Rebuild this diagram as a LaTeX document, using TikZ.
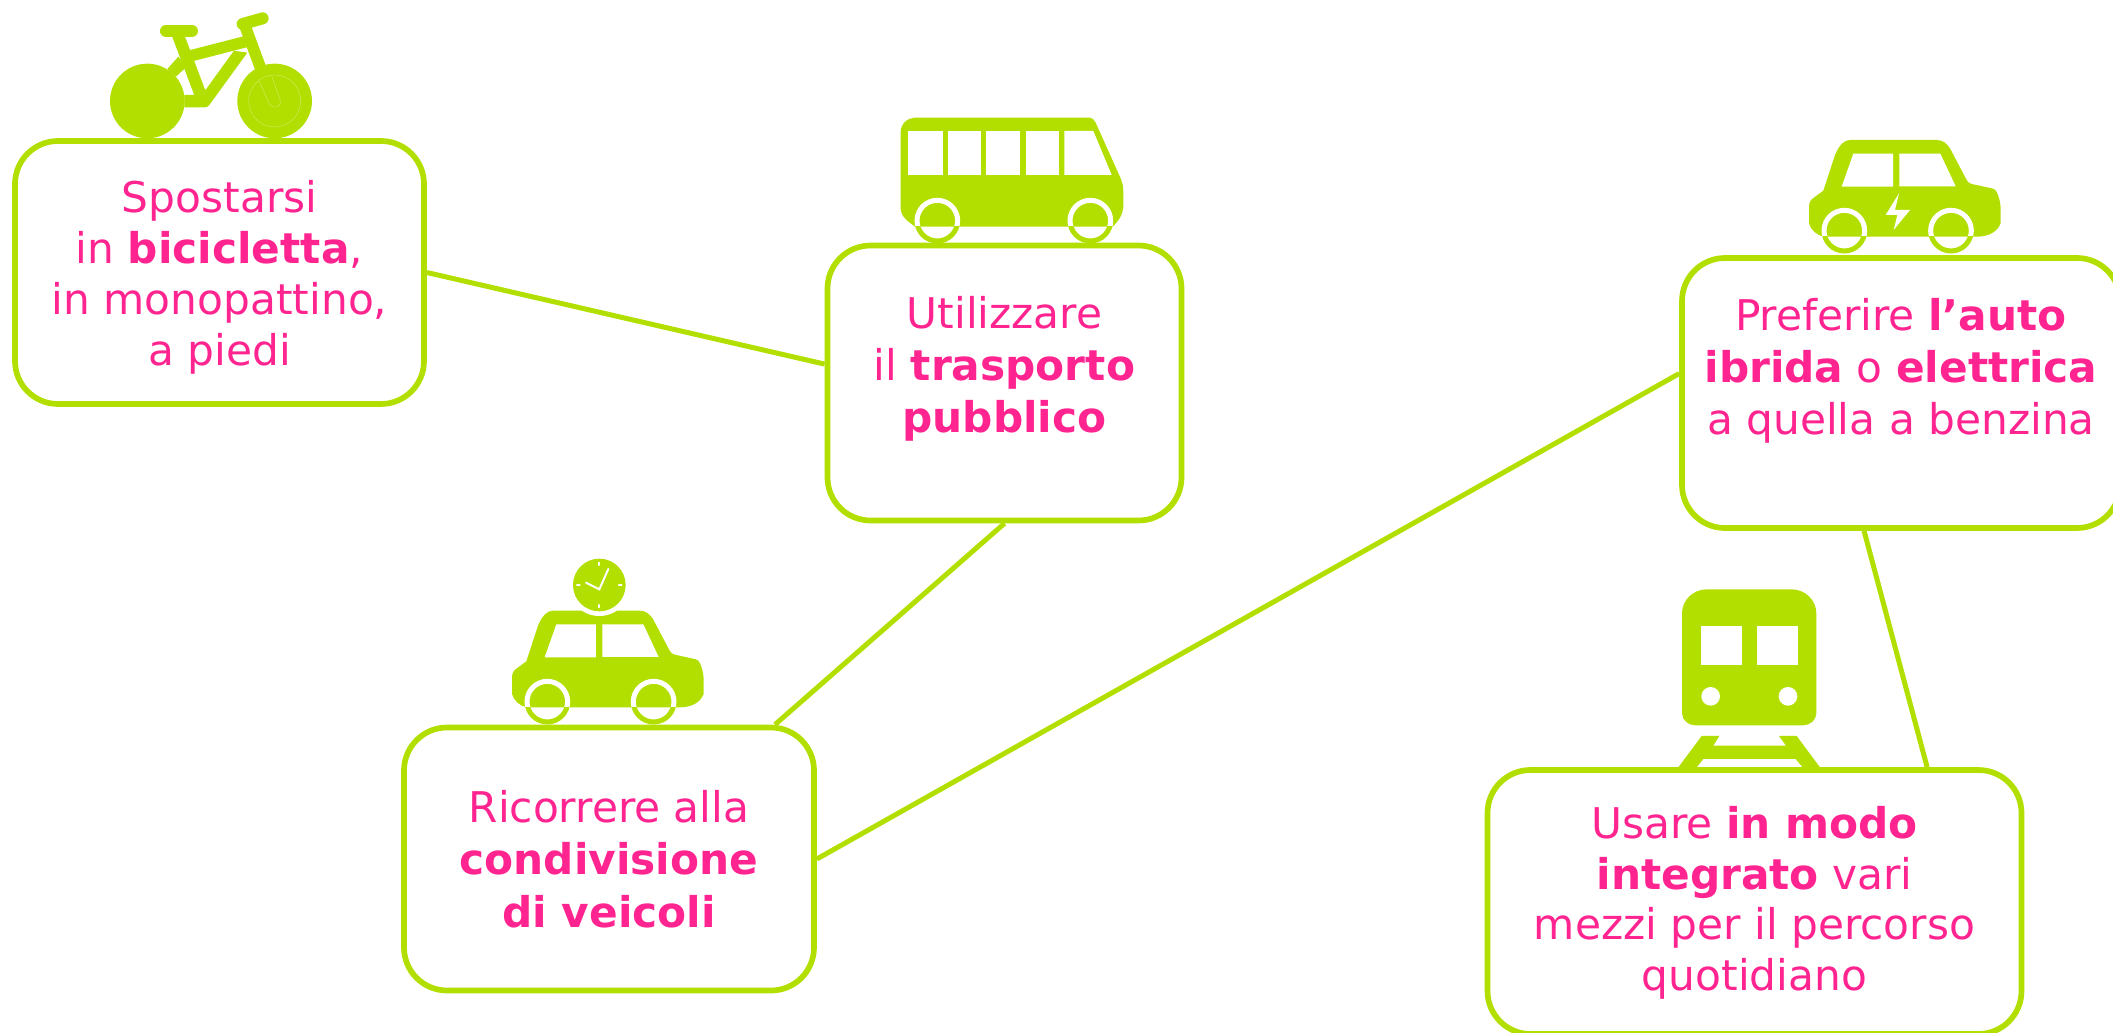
\documentclass[tikz,border=0pt]{standalone}
\usepackage{fontspec}
\setmainfont{DejaVu Sans}
\definecolor{lime}{HTML}{B2DF00}
\definecolor{fucsia}{HTML}{FF2490}

\newcommand{\wheelring}[3]{
    \begin{scope}
        \clip (#1-90,#2-90) rectangle (#1+90,#3);
        \draw[white, line width=5pt] (#1,#2) circle (61);
    \end{scope}
    \begin{scope}
        \clip (#1-90,#3) rectangle (#1+90,#2+90);
        \draw[lime, line width=5pt] (#1,#2) circle (61);
    \end{scope}
}
\newcommand{\carbody}{
    \fill[lime] (100,212) -- (135,105) .. controls (148,75) and (162,60) .. (180,60)
        -- (440,60) .. controls (458,60) and (470,70) .. (480,85) -- (530,180)
        .. controls (534,187) and (538,190) .. (545,192) -- (605,205)
        .. controls (615,208) and (620,212) .. (622,220) .. controls (630,240) and (632,255) .. (632,270)
        -- (632,310) .. controls (620,340) and (590,350) .. (560,350) -- (100,350)
        .. controls (80,345) and (62,330) .. (57,310) -- (57,265)
        .. controls (57,250) and (60,242) .. (65,238) -- cycle;
    \fill[white] (190,101) -- (309,101) -- (309,200) -- (155,200) -- cycle;
    \fill[white] (328,101) -- (451,101) -- (497,199) -- (328,199) -- cycle;
}

\begin{document}
\begin{tikzpicture}[
    x=1pt, y=-1pt,
    tappa/.style={
        draw=lime,
        fill=white,
        line width=5.7pt,
        rounded corners=43pt,
        align=center,
        text=fucsia
    },
    riga/.style={font=\fontsize{42.3}{#1}\selectfont},
    legame/.style={draw=lime, line width=5pt}
]
\useasboundingbox (0,0) rectangle (2113,1033);

% Icons: bicycle
\begin{scope}[shift={(90,0)}, scale=0.3333]
    \fill[lime] (172,303) circle (112);
    \fill[lime] (554,303) circle (112);
    \draw[white, opacity=0.5, line width=0.3pt] (554,303) circle (78);
    \draw[white, opacity=0.5, line width=0.3pt] (508,243) -- (538,312) .. controls (545,328) and (578,325) .. (570,298) -- (545,228);
    \draw[lime, line width=12pt, line cap=round] (228,93) -- (306,93);
    \draw[lime, line width=12pt, line cap=round] (458,72) -- (518,55);
    \draw[lime, line width=12pt] (262,100) -- (332,285);
    \draw[lime, line width=11.5pt] (300,168) -- (475,123);
    \draw[lime, line width=11.5pt] (463,72) -- (512,205);
    \fill[lime] (283,285) -- (316,285) -- (348,268) -- (432,152) -- (472,158) -- (358,315)
        .. controls (354,320) and (350,322) .. (345,322) -- (283,322) -- cycle;
    \fill[lime] (232,207) -- (265,170) -- (290,200) -- (258,230) -- cycle;
\end{scope}

% Icons: bus
\begin{scope}[shift={(880,100)}, scale=0.3333]
    \fill[lime] (105,53) -- (630,53) .. controls (638,53) and (642,60) .. (647,68) -- (722,235)
        .. controls (728,250) and (730,260) .. (730,275) -- (730,320) .. controls (728,345) and (715,365) .. (698,380)
        -- (105,380) .. controls (85,365) and (62,350) .. (62,325) -- (62,95)
        .. controls (62,70) and (85,53) .. (105,53) -- cycle;
    \fill[white] (85,93) rectangle (189,225);
    \fill[white] (203,93) rectangle (302,225);
    \fill[white] (319,93) rectangle (419,225);
    \fill[white] (437,93) rectangle (537,225);
    \fill[white] (553,93) -- (640,93) -- (695,225) -- (553,225) -- cycle;
    \wheelring{172}{362}{380}
    \wheelring{631}{362}{380}
\end{scope}

% Icons: electric car
\begin{scope}[shift={(1790,120)}, scale=0.3333]
    \carbody
    \fill[white] (327,220) -- (315,270) -- (360,270) -- (311,330) -- (322,285) -- (287,285) -- cycle;
    \wheelring{163}{332}{350}
    \wheelring{483}{332}{350}
\end{scope}

% Icons: shared car with clock
\begin{scope}[shift={(490,550)}, scale=0.3333]
    \begin{scope}[shift={(9,122)}]
        \carbody
        \wheelring{163}{333}{351}
        \wheelring{482}{333}{351}
    \end{scope}
    \fill[white] (328,105) circle (93);
    \fill[lime] (328,105) circle (79);
    \draw[white, line width=2pt, line cap=round] (288,98) -- (328,118) -- (355,57);
    \draw[white, line width=2pt, line cap=round] (328,38) -- (328,45);
    \draw[white, line width=2pt, line cap=round] (328,165) -- (328,172);
    \draw[white, line width=2pt, line cap=round] (261,105) -- (269,105);
    \draw[white, line width=2pt, line cap=round] (387,105) -- (395,105);
\end{scope}

% Icons: train
\begin{scope}[shift={(1660,580)}, scale=0.3333]
    \fill[lime] (66,100) .. controls (66,60) and (100,28) .. (140,28) -- (395,28)
        .. controls (435,28) and (469,60) .. (469,100) -- (469,400)
        .. controls (469,420) and (450,436) .. (430,436) -- (105,436)
        .. controls (85,436) and (66,420) .. (66,400) -- cycle;
    \fill[white] (123,138) rectangle (245,255);
    \fill[white] (291,138) rectangle (413,255);
    \fill[white] (152,349) circle (28);
    \fill[white] (384,349) circle (28);
    \fill[lime] (125,468) -- (178,468) -- (160,497) -- (378,497) -- (357,468) -- (410,468)
        -- (480,562) -- (428,562) -- (407,537) -- (130,537) -- (110,562) -- (55,562) -- cycle;
\end{scope}

% Nodes
\node[tappa, riga=50.8, text height=194pt, minimum width=409pt, minimum height=263pt] (bici) at (219.5,272.5) {Spostarsi\\in \textbf{bicicletta},\\in monopattino,\\a piedi};
\node[tappa, riga=52, text depth=37pt, minimum width=354pt, minimum height=275pt] (trasporto) at (1004.5,383) {Utilizzare\\il \textbf{trasporto}\\\textbf{pubblico}};
\node[tappa, riga=52, text depth=54pt, minimum width=438pt, minimum height=270pt] (ibrida) at (1901,393) {Preferire \textbf{l’auto}\\\textbf{ibrida} o \textbf{elettrica}\\a quella a benzina};
\node[tappa, riga=52.6, minimum width=410pt, minimum height=263pt] (condivisione) at (609,859) {Ricorrere alla\\\textbf{condivisione}\\\textbf{di veicoli}};
\node[tappa, riga=50.8, text height=186pt, minimum width=534pt, minimum height=264pt] (integrato) at (1754.5,902) {Usare \textbf{in modo}\\\textbf{integrato} vari\\mezzi per il percorso\\quotidiano};

% Edges
\draw[legame] (bici.east) -- (trasporto.174);
\draw[legame] (trasporto.south) -- (condivisione.39);
\draw[legame] (ibrida.175) -- (condivisione.east);
\draw[legame] (ibrida.255) -- (integrato.38.5);

\end{tikzpicture}
\end{document}
